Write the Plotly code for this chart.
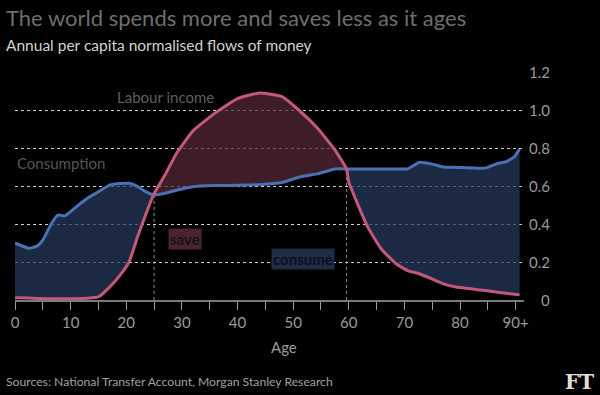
import plotly.graph_objects as go

# ---- data ----
ages = [0, 2.5, 4, 5, 6.5, 7.7, 9, 11, 13, 15, 17, 19, 20.5, 22, 23.5, 25,
        27, 29, 32, 36, 40, 44, 48, 51, 54.5, 57.5, 59.6,
        60, 61.3, 63.4, 65.8, 68.5, 70.6, 72.7, 75, 77, 79.3, 84.5, 86.5, 88.3, 89.8, 90.7]
consumption = [0.30, 0.272, 0.285, 0.315, 0.40, 0.447, 0.443, 0.49, 0.535, 0.57, 0.605, 0.613, 0.614, 0.598, 0.57, 0.553,
               0.562, 0.578, 0.596, 0.602, 0.604, 0.607, 0.618, 0.646, 0.665, 0.69, 0.69,
               0.69, 0.69, 0.69, 0.69, 0.69, 0.69, 0.725, 0.715, 0.70, 0.698, 0.694, 0.716, 0.728, 0.755, 0.794]
labour_income = [0.012, 0.01, 0.008, 0.007, 0.006, 0.006, 0.006, 0.007, 0.009, 0.016, 0.068, 0.135, 0.20, 0.33, 0.45, 0.56,
                 0.66, 0.77, 0.89, 0.985, 1.06, 1.09, 1.07, 1.0, 0.90, 0.79, 0.69,
                 0.62, 0.526, 0.385, 0.27, 0.191, 0.155, 0.138, 0.11, 0.085, 0.068, 0.05, 0.042, 0.035, 0.03, 0.027]
crossings = [25, 59.6]          # ages where the two curves meet
x_tick_vals = list(range(0, 95, 5))
x_tick_text = ["0", "", "10", "", "20", "", "30", "", "40", "", "50", "", "60", "", "70", "", "80", "", "90+"]
y_tick_vals = [0, 0.2, 0.4, 0.6, 0.8, 1.0, 1.2]
y_tick_text = ["0", "0.2", "0.4", "0.6", "0.8", "1.0", "1.2"]

BLUE = "#4a72b2"
PINK = "#c4587c"
BLUE_FILL = "rgba(38,58,92,0.72)"
RED_FILL = "rgba(86,40,56,0.72)"

fig = go.Figure()

def segment(lo, hi):
    return [i for i, a in enumerate(ages) if lo <= a <= hi]

i25 = ages.index(crossings[0])
i60 = ages.index(crossings[1])
segs = [(0, crossings[0], BLUE_FILL), (crossings[0], crossings[1], RED_FILL), (crossings[1], ages[-1], BLUE_FILL)]
for lo, hi, col in segs:
    idx = segment(lo, hi)
    xs = [ages[i] for i in idx] + [ages[i] for i in reversed(idx)]
    ys = [consumption[i] for i in idx] + [labour_income[i] for i in reversed(idx)]
    fig.add_trace(go.Scatter(x=xs, y=ys, fill="toself", fillcolor=col, mode="none",
                             hoverinfo="skip", showlegend=False))

# vertical dotted markers at crossing ages
for i in (i25, i60):
    fig.add_trace(go.Scatter(x=[ages[i], ages[i]], y=[0, consumption[i]], mode="lines",
                             line=dict(color="#8a8a8a", width=1, dash="dot"),
                             hoverinfo="skip", showlegend=False))

fig.add_trace(go.Scatter(x=ages, y=consumption, mode="lines",
                         line=dict(color=BLUE, width=3, shape="spline", smoothing=0.4),
                         name="Consumption", showlegend=False))
fig.add_trace(go.Scatter(x=ages, y=labour_income, mode="lines",
                         line=dict(color=PINK, width=3, shape="spline", smoothing=0.4),
                         name="Labour income", showlegend=False, cliponaxis=False))

FONT = "Lato"
annotations = []
for v, t in zip(y_tick_vals, y_tick_text):
    annotations.append(dict(x=1, xref="paper", y=v, yref="y", text=t, showarrow=False,
                            xanchor="right", yanchor="middle", xshift=28,
                            font=dict(family=FONT, size=15, color="#9a9a9a")))
annotations += [
    dict(x=0, xref="paper", y=1.0, yref="paper", yshift=55, text="The world spends more and saves less as it ages",
         showarrow=False, xanchor="left", yanchor="middle", xshift=-11,
         font=dict(family=FONT, size=22, color="#6e6e6e")),
    dict(x=0, xref="paper", y=1.0, yref="paper", yshift=27, text="Annual per capita normalised flows of money",
         showarrow=False, xanchor="left", yanchor="middle", xshift=-11,
         font=dict(family=FONT, size=15.5, color="#d2d2d2")),
    dict(x=48.3, xref="x", y=0, yref="paper", yshift=-47, text="Age", showarrow=False,
         xanchor="center", yanchor="middle", font=dict(family=FONT, size=15, color="#9a9a9a")),
    dict(x=0, xref="paper", y=0, yref="paper", yshift=-81, text="Sources: National Transfer Account, Morgan Stanley Research",
         showarrow=False, xanchor="left", yanchor="middle", xshift=-11,
         font=dict(family=FONT, size=12.2, color="#a0a0a0")),
    dict(x=1, xref="paper", y=0, yref="paper", yshift=-82, xshift=72, text="<b>FT</b>", showarrow=False,
         xanchor="right", yanchor="middle", font=dict(family="DejaVu Serif", size=20, color="#e6dfd4")),
    dict(x=27, xref="x", y=1.07, yref="y", text="Labour income", showarrow=False,
         xanchor="center", yanchor="middle", font=dict(family=FONT, size=15, color="#5e5e5e")),
    dict(x=0, xref="x", y=0.72, yref="y", text="Consumption", showarrow=False,
         xanchor="left", yanchor="middle", font=dict(family=FONT, size=15, color="#555555")),
    dict(x=30.5, xref="x", y=0.32, yref="y", text="<b>save</b>", showarrow=False,
         xanchor="center", yanchor="middle", bgcolor="#4a2230", borderpad=1,
         font=dict(family=FONT, size=15, color="#141414")),
    dict(x=51.8, xref="x", y=0.214, yref="y", text="<b>consume</b>", showarrow=False,
         xanchor="center", yanchor="middle", bgcolor="#1f2c45", borderpad=1,
         font=dict(family=FONT, size=15, color="#0a0f1c")),
]

fig.update_layout(
    width=600, height=395,
    margin=dict(l=15, r=76, t=72, b=95),
    paper_bgcolor="black", plot_bgcolor="black",
    showlegend=False,
    annotations=annotations,
    xaxis=dict(range=[0, 91.5], tickvals=x_tick_vals, ticktext=x_tick_text,
               ticks="outside", ticklen=8, tickwidth=1, tickcolor="#9a9a9a",
               showline=True, linecolor="#7a7a7a", linewidth=1.5,
               showgrid=False, zeroline=False,
               tickfont=dict(family=FONT, size=15, color="#9a9a9a")),
    yaxis=dict(range=[0, 1.2], tickvals=y_tick_vals, showticklabels=False,
               showgrid=True, gridcolor="#cfcfcf", griddash="dot", gridwidth=1,
               zeroline=False, ticks=""),
)

fig.write_html("out.html", config={"displayModeBar": False},
               post_script="document.body.style.margin='0';document.body.style.background='black';")
